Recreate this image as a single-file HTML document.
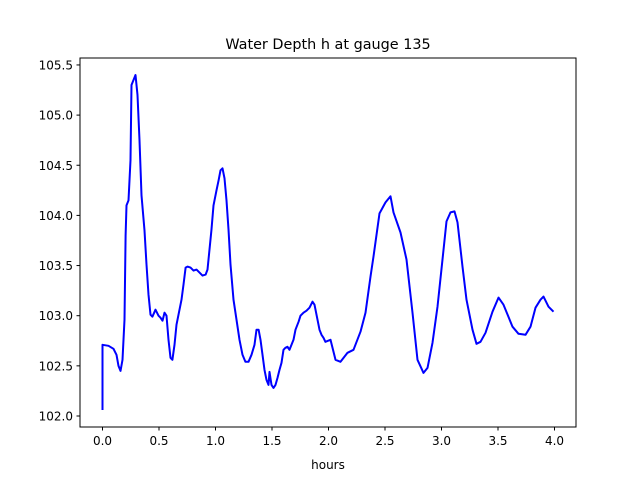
<!DOCTYPE html>
<html><head><meta charset="utf-8"><style>
body{margin:0;background:#fff;}
svg{display:block;font-family:"DejaVu Sans","Liberation Sans",sans-serif;}
</style></head><body>
<svg id="chart" width="640" height="480" viewBox="0 0 640 480" xmlns="http://www.w3.org/2000/svg">
<rect width="640" height="480" fill="#fff"/>
<text x="328" y="49" font-size="14.4" text-anchor="middle">Water Depth h at gauge 135</text>
<g id="ticks"></g>
<path id="line" fill="none" stroke="#0000ff" stroke-width="2" stroke-linejoin="round"/>
<rect x="80" y="58" width="496" height="369" fill="none" stroke="#000" stroke-width="1"/>
<text x="328" y="469" font-size="12" text-anchor="middle">hours</text>
</svg>
<script>
const hours=[0,0,.053,.097,.124,.142,.159,.177,.195,.204,.212,.230,.248,.257,.274,.292,.310,.327,.345,.372,.389,.407,.425,.442,.469,.496,.513,.531,.549,.566,.584,.602,.619,.637,.655,.673,.699,.717,.735,.752,.779,.805,.832,.858,.885,.912,.929,.947,.965,.982,1.009,1.027,1.044,1.062,1.080,1.097,1.115,1.133,1.159,1.186,1.212,1.239,1.265,1.292,1.319,1.345,1.363,1.381,1.398,1.416,1.434,1.451,1.469,1.478,1.496,1.513,1.531,1.549,1.566,1.584,1.602,1.619,1.637,1.655,1.673,1.690,1.708,1.735,1.752,1.779,1.805,1.832,1.858,1.876,1.903,1.920,1.938,1.956,1.973,2.018,2.062,2.106,2.168,2.221,2.283,2.327,2.372,2.398,2.451,2.504,2.549,2.575,2.637,2.690,2.743,2.788,2.841,2.876,2.920,2.965,3.009,3.044,3.080,3.115,3.142,3.186,3.221,3.274,3.310,3.345,3.389,3.451,3.504,3.549,3.628,3.681,3.743,3.788,3.832,3.876,3.903,3.947,3.991];
const depth=[102.06,102.71,102.70,102.67,102.61,102.50,102.45,102.56,102.96,103.80,104.10,104.15,104.55,105.30,105.35,105.40,105.20,104.75,104.20,103.85,103.51,103.21,103.01,102.99,103.06,103.00,102.98,102.95,103.03,103.00,102.76,102.58,102.56,102.71,102.91,103.01,103.16,103.31,103.48,103.49,103.48,103.45,103.46,103.43,103.40,103.41,103.46,103.66,103.86,104.10,104.25,104.35,104.45,104.47,104.37,104.15,103.86,103.51,103.16,102.96,102.76,102.61,102.54,102.54,102.61,102.71,102.86,102.86,102.76,102.61,102.46,102.36,102.31,102.44,102.31,102.28,102.31,102.38,102.46,102.53,102.66,102.68,102.69,102.66,102.71,102.76,102.86,102.94,103.00,103.03,103.05,103.08,103.14,103.11,102.96,102.86,102.81,102.78,102.74,102.76,102.56,102.54,102.63,102.66,102.84,103.03,103.39,103.59,104.02,104.13,104.19,104.03,103.83,103.56,103.03,102.56,102.43,102.48,102.73,103.09,103.56,103.94,104.03,104.04,103.93,103.49,103.16,102.86,102.72,102.74,102.83,103.04,103.18,103.11,102.89,102.82,102.81,102.89,103.08,103.16,103.19,103.09,103.04];
const xTicks=["0.0","0.5","1.0","1.5","2.0","2.5","3.0","3.5","4.0"];
const yTicks=["102.0","102.5","103.0","103.5","104.0","104.5","105.0","105.5"];
const X=t=>102.5+t*113;
const Y=h=>416-(h-102)*100.3;
const NS="http://www.w3.org/2000/svg";
const g=document.getElementById('ticks');
function mk(tag,attrs){const e=document.createElementNS(NS,tag);for(const k in attrs)e.setAttribute(k,attrs[k]);return e;}
xTicks.forEach(l=>{const x=X(parseFloat(l));
const t=mk('line',{x1:x,x2:x,y1:427,y2:430.5,stroke:'#000'});


g.appendChild(t);
const tx=mk('text',{x:x,y:445,'font-size':'12','text-anchor':'middle'});


tx.textContent=l;g.appendChild(tx);});
yTicks.forEach(l=>{const y=Y(parseFloat(l));
const t=mk('line',{x1:76.5,x2:80,y1:y,y2:y,stroke:'#000'});


g.appendChild(t);
const tx=mk('text',{x:73,y:y+4.5,'font-size':'12','text-anchor':'end'});


tx.textContent=l;g.appendChild(tx);});
document.getElementById('line').setAttribute('d',hours.map((t,i)=>(i?'L':'M')+X(t).toFixed(1)+','+Y(depth[i]).toFixed(1)).join(''));
</script>
</body></html>
